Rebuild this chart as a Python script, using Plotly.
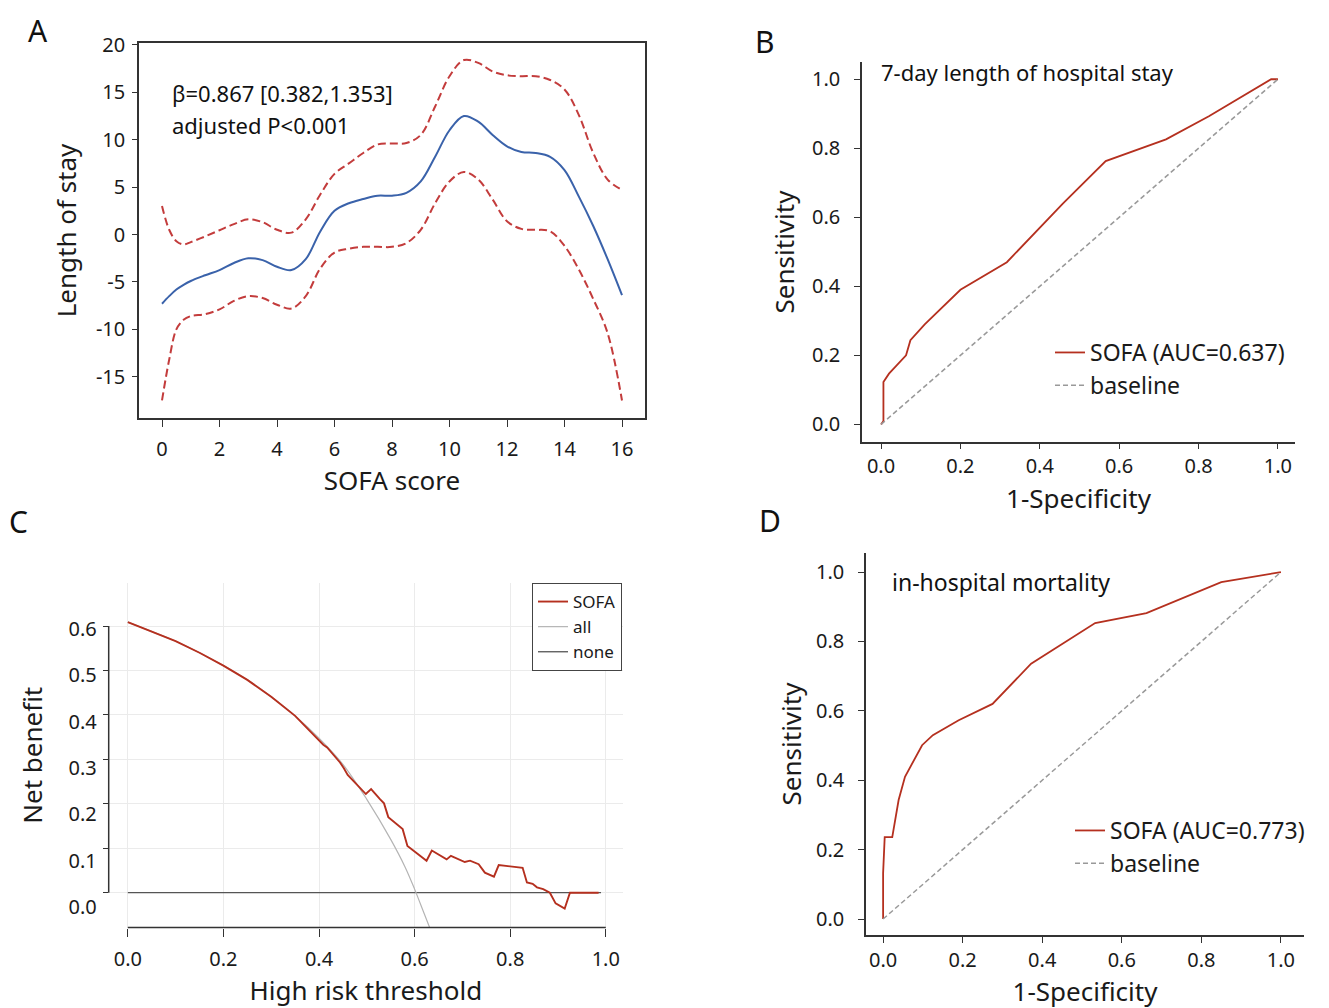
import plotly.graph_objects as go

W, H = 1329, 1008
OFF = 8  # the page body margin shifts the figure by 8px
FONT = "Noto Sans"

# ---- panel A: restricted cubic spline, length of stay vs SOFA
sofa = [0, 0.25, 0.5, 0.75, 1, 1.5, 2, 2.5, 3, 3.5, 4, 4.5, 5, 5.5, 6, 6.5, 7, 7.5,
        8, 8.5, 9, 9.5, 10, 10.5, 11, 11.5, 12, 12.5, 13, 13.5, 14, 14.5, 15, 15.5, 16]
los_fit = [-7.3, -6.5, -5.8, -5.3, -4.9, -4.3, -3.75, -3.0, -2.5, -2.7, -3.4, -3.75, -2.6,
           0.3, 2.5, 3.3, 3.75, 4.1, 4.1, 4.4, 5.6, 8.2, 11.0, 12.5, 11.9, 10.5, 9.3, 8.7,
           8.6, 8.2, 6.8, 4.0, 0.9, -2.6, -6.4]
los_upper = [3.0, 0.5, -0.7, -1.05, -0.8, -0.2, 0.45, 1.1, 1.6, 1.3, 0.5, 0.2, 1.6, 4.2,
             6.4, 7.5, 8.6, 9.5, 9.6, 9.65, 10.5, 13.5, 16.7, 18.4, 18.1, 17.2, 16.8, 16.7,
             16.7, 16.3, 15.3, 12.6, 8.6, 5.8, 4.7]
los_lower = [-17.5, -13.2, -10.0, -9.0, -8.6, -8.4, -7.9, -7.0, -6.5, -6.7, -7.4, -7.8, -6.5,
             -3.6, -1.9, -1.5, -1.3, -1.3, -1.3, -0.9, 0.5, 3.3, 5.6, 6.6, 5.8, 3.7, 1.4,
             0.6, 0.5, 0.35, -1.2, -3.7, -6.8, -10.4, -17.5]
a_xticks = [0, 2, 4, 6, 8, 10, 12, 14, 16]
a_yticks = [-15, -10, -5, 0, 5, 10, 15, 20]

# ---- panel B: ROC, 7-day length of stay
b_fpr = [0, 0.006, 0.006, 0.02, 0.063, 0.074, 0.11, 0.2, 0.317, 0.458, 0.566, 0.718, 0.826, 0.983, 1.0]
b_tpr = [0, 0.01, 0.123, 0.147, 0.2, 0.244, 0.29, 0.39, 0.47, 0.64, 0.763, 0.826, 0.893, 1.0, 1.0]

# ---- panel D: ROC, in-hospital mortality
d_fpr = [0, 0, 0.004, 0.023, 0.039, 0.055, 0.098, 0.125, 0.19, 0.275, 0.372, 0.533, 0.662, 0.85, 1.0]
d_tpr = [0, 0.132, 0.236, 0.236, 0.343, 0.41, 0.501, 0.53, 0.573, 0.62, 0.736, 0.853, 0.882, 0.971, 1.0]

base_x = [0, 1]
base_y = [0, 1]
roc_ticks = [0, 0.2, 0.4, 0.6, 0.8, 1.0]

# ---- panel C: decision curve
dca_x = [0, 0.05, 0.1, 0.15, 0.2, 0.25, 0.3, 0.35, 0.40, 0.409, 0.417, 0.444, 0.452, 0.46,
         0.498, 0.509, 0.528, 0.536, 0.545, 0.575, 0.585, 0.625, 0.636, 0.667, 0.676, 0.705,
         0.716, 0.734, 0.747, 0.766, 0.776, 0.826, 0.835, 0.847, 0.856, 0.869, 0.883, 0.895,
         0.914, 0.925, 0.985]
dca_sofa = [0.609, 0.588, 0.566, 0.540, 0.511, 0.479, 0.441, 0.398, 0.343, 0.333, 0.327,
            0.293, 0.280, 0.265, 0.222, 0.233, 0.210, 0.201, 0.170, 0.143, 0.105, 0.072,
            0.095, 0.075, 0.083, 0.069, 0.072, 0.064, 0.045, 0.036, 0.062, 0.056, 0.023,
            0.020, 0.012, 0.008, 0.0, -0.024, -0.036, 0.0, 0.0]
all_x = [0, 0.05, 0.1, 0.15, 0.2, 0.25, 0.3, 0.35, 0.4, 0.45, 0.5, 0.55, 0.58, 0.6, 0.62, 0.64]
all_y = [0.609, 0.588, 0.566, 0.540, 0.511, 0.479, 0.441, 0.398, 0.348, 0.289, 0.21, 0.12,
         0.058, 0.008, -0.047, -0.102]
none_x = [0, 0.99]
none_y = [0, 0]
c_xticks = [0, 0.2, 0.4, 0.6, 0.8, 1.0]
c_yticks = [0, 0.1, 0.2, 0.3, 0.4, 0.5, 0.6]


def px(x0, x1):
    return [(x0 - OFF) / W, (x1 - OFF) / W]


def py(top, bottom):
    return [1 - (bottom - OFF) / H, 1 - (top - OFF) / H]


def fx(x):
    return (x - OFF) / W


def fy(y):
    return 1 - (y - OFF) / H


AX = "#333333"
RED = "#b5301f"
CI_RED = "#c33c3c"
GREY_DASH = "5px,3px"
fig = go.Figure()

# A
fig.add_trace(go.Scatter(x=sofa, y=los_upper, mode="lines", line=dict(color=CI_RED, width=2, dash="8px,4px", shape="spline"),
                         showlegend=False, xaxis="x", yaxis="y"))
fig.add_trace(go.Scatter(x=sofa, y=los_lower, mode="lines", line=dict(color=CI_RED, width=2, dash="8px,4px", shape="spline"),
                         showlegend=False, xaxis="x", yaxis="y"))
fig.add_trace(go.Scatter(x=sofa, y=los_fit, mode="lines", line=dict(color="#3a62aa", width=2, shape="spline"),
                         showlegend=False, xaxis="x", yaxis="y"))

# B
fig.add_trace(go.Scatter(x=b_fpr, y=b_tpr, mode="lines", name="SOFA (AUC=0.637)", line=dict(color=RED, width=1.8),
                         legend="legend", xaxis="x2", yaxis="y2"))
fig.add_trace(go.Scatter(x=base_x, y=base_y, mode="lines", name="baseline", line=dict(color="#999999", width=1.5, dash=GREY_DASH),
                         legend="legend", xaxis="x2", yaxis="y2"))

# C
fig.add_trace(go.Scatter(x=none_x, y=none_y, mode="lines", name="none", line=dict(color="#555555", width=1.3),
                         legend="legend3", legendrank=3, xaxis="x3", yaxis="y3"))
fig.add_trace(go.Scatter(x=all_x, y=all_y, mode="lines", name="all", line=dict(color="#b4b4b4", width=1.2, shape="spline"),
                         legend="legend3", legendrank=2, xaxis="x3", yaxis="y3"))
fig.add_trace(go.Scatter(x=dca_x, y=dca_sofa, mode="lines", name="SOFA", line=dict(color=RED, width=1.9),
                         legend="legend3", legendrank=1, xaxis="x3", yaxis="y3"))
fig.add_trace(go.Scatter(x=[], y=[], showlegend=False, hoverinfo="skip", xaxis="x3", yaxis="y5"))

# D
fig.add_trace(go.Scatter(x=d_fpr, y=d_tpr, mode="lines", name="SOFA (AUC=0.773)", line=dict(color=RED, width=1.8),
                         legend="legend2", xaxis="x4", yaxis="y4"))
fig.add_trace(go.Scatter(x=base_x, y=base_y, mode="lines", name="baseline", line=dict(color="#999999", width=1.5, dash=GREY_DASH),
                         legend="legend2", xaxis="x4", yaxis="y4"))

tickfont = dict(family=FONT, size=20, color="#1a1a1a")
titlefont = dict(family=FONT, size=26, color="#1a1a1a")

common = dict(showgrid=False, zeroline=False, ticks="outside", tickcolor=AX, tickfont=tickfont,
              linecolor=AX, linewidth=1.5, automargin=False)

fig.update_layout(
    width=W, height=H, margin=dict(l=0, r=0, t=0, b=0, autoexpand=False),
    paper_bgcolor="white", plot_bgcolor="white",
    font=dict(family=FONT, color="#1a1a1a"),
    xaxis=dict(common, domain=px(139, 645), range=[-0.8, 16.8], tickvals=a_xticks, showline=True, mirror=True,
               ticklen=7, ticklabelstandoff=5,
               title=dict(text="SOFA score", font=titlefont, standoff=3), anchor="y"),
    yaxis=dict(common, domain=py(43, 418), range=[-19.35, 20.2], tickvals=a_yticks,
               ticktext=[str(v) for v in a_yticks], showline=True, mirror=True,
               ticklen=5, ticklabelstandoff=3,
               title=dict(text="Length of stay", font=titlefont, standoff=12), anchor="x"),
    xaxis2=dict(common, domain=px(862, 1295), range=[-0.048, 1.043], tickvals=roc_ticks, tickformat=".1f",
                showline=True, ticklen=5, ticklabelstandoff=0,
                title=dict(text="1-Specificity", font=titlefont, standoff=12), anchor="y2"),
    yaxis2=dict(common, domain=py(62, 442), range=[-0.051, 1.05], tickvals=roc_ticks, tickformat=".1f",
                showline=True, ticklen=6, ticklabelstandoff=10,
                title=dict(text="Sensitivity", font=titlefont, standoff=10), anchor="x2"),
    xaxis3=dict(common, domain=px(108.7, 623), range=[-0.04, 1.036], tickvals=c_xticks, tickformat=".1f",
                showline=False, showgrid=True, gridcolor="#ebebeb", gridwidth=1, ticklen=8, ticklabelstandoff=5,
                title=dict(text="High risk threshold", font=titlefont, standoff=11), anchor="y3"),
    yaxis3=dict(common, domain=py(583, 927.6), range=[-0.0786, 0.697], tickvals=c_yticks,
                showline=False, showgrid=True, gridcolor="#ebebeb", gridwidth=1, ticklen=5,
                showticklabels=False, anchor="x3"),
    yaxis5=dict(domain=py(583, 927.6), range=[-0.0445, 0.6993], tickvals=c_yticks, tickformat=".1f",
                overlaying="y3", anchor="x3", side="left", showgrid=False, zeroline=False, showline=False,
                ticks="", tickfont=tickfont, ticklabelstandoff=11, automargin=False,
                title=dict(text="Net benefit", font=titlefont, standoff=18)),
    xaxis4=dict(common, domain=px(866, 1304), range=[-0.043, 1.058], tickvals=roc_ticks, tickformat=".1f",
                showline=True, ticklen=6, ticklabelstandoff=0,
                title=dict(text="1-Specificity", font=titlefont, standoff=10), anchor="y4"),
    yaxis4=dict(common, domain=py(553, 935), range=[-0.046, 1.055], tickvals=roc_ticks, tickformat=".1f",
                showline=True, ticklen=6, ticklabelstandoff=10,
                title=dict(text="Sensitivity", font=titlefont, standoff=7), anchor="x4"),
    legend=dict(x=fx(1050), y=fy(331), xanchor="left", yanchor="top", bgcolor="rgba(0,0,0,0)",
                font=dict(family=FONT, size=23, color="#1a1a1a"), itemwidth=30),
    legend2=dict(x=fx(1070), y=fy(809), xanchor="left", yanchor="top", bgcolor="rgba(0,0,0,0)",
                 font=dict(family=FONT, size=23, color="#1a1a1a"), itemwidth=30),
    legend3=dict(x=fx(532), y=fy(583), xanchor="left", yanchor="top", bgcolor="white",
                 bordercolor="#444444", borderwidth=1, font=dict(family=FONT, size=17, color="#1a1a1a"),
                 itemwidth=30, tracegroupgap=0),
)

# R-style axis lines for panel C that only span the tick range
fig.add_shape(type="line", xref="x3", yref="y3 domain", x0=min(c_xticks), x1=max(c_xticks), y0=0, y1=0,
              line=dict(color=AX, width=1.5))
fig.add_shape(type="line", xref="x3 domain", yref="y3", x0=0, x1=0, y0=min(c_yticks), y1=max(c_yticks),
              line=dict(color=AX, width=1.5))

notes = [
    ("B", 765, 42, 30), ("C", 18, 521, 30), ("D", 770, 520, 30),
]
for text, x, y, size in notes:
    fig.add_annotation(text=text, x=fx(x), y=fy(y), xref="paper", yref="paper", showarrow=False,
                       xanchor="center", yanchor="middle", font=dict(family=FONT, size=size, color="#111111"))
# top-left letter anchored to the top edge so it stays inside the figure
fig.add_annotation(text="A", x=fx(38), y=1, xref="paper", yref="paper", showarrow=False,
                   xanchor="center", yanchor="top", font=dict(family=FONT, size=30, color="#111111"))

inner = [
    ("β=0.867 [0.382,1.353]", 170, 93), ("adjusted P<0.001", 170, 125),
    ("7-day length of hospital stay", 879, 72), ("in-hospital mortality", 890, 582),
]
for text, x, y in inner:
    fig.add_annotation(text=text, x=fx(x), y=fy(y), xref="paper", yref="paper", showarrow=False,
                       xanchor="left", yanchor="middle", font=dict(family=FONT, size=22 if y < 130 else 23, color="#111111"))

fig.write_html("out.html")
